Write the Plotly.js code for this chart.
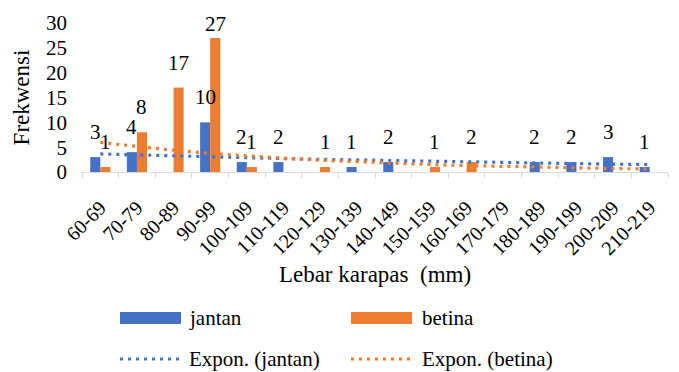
<!DOCTYPE html>
<html><head><meta charset="utf-8">
<script src="https://cdn.plot.ly/plotly-3.0.1.min.js"></script>
<style>html,body{margin:0;padding:0;background:#fff}#chart{width:679px;height:372px}</style>
</head><body><div id="chart"></div>
<script>
const categories = ["60-69","70-79","80-89","90-99","100-109","110-119","120-129","130-139","140-149","150-159","160-169","170-179","180-189","190-199","200-209","210-219"];
// blank cells are null (not plotted, not labelled)
const jantan = [3,4,null,10,2,2,null,1,2,null,null,null,2,2,3,1];
const betina = [1,8,17,27,1,null,1,null,null,1,2,null,null,null,null,null];
const seriesNames = ["jantan","betina"];
const trendNames = ["Expon. (jantan)","Expon. (betina)"];
const yTicks = [0,5,10,15,20,25,30];
const xTitle = "Lebar karapas\u00a0\u00a0(mm)";
const yTitle = "Frekwensi";

const BLUE = "#4472C4", ORANGE = "#ED7D31";
const FONT = "Liberation Serif, serif";

// Excel-style exponential trendline: least squares on ln(y) vs category position (1..n), blanks skipped
function expTrend(vals){
  const pts = [];
  vals.forEach((v,i)=>{ if(v!==null && v>0) pts.push([i+1, Math.log(v)]); });
  const n = pts.length;
  const mx = pts.reduce((s,p)=>s+p[0],0)/n, my = pts.reduce((s,p)=>s+p[1],0)/n;
  let sxy=0, sxx=0;
  pts.forEach(p=>{ sxy += (p[0]-mx)*(p[1]-my); sxx += (p[0]-mx)*(p[0]-mx); });
  const b = sxy/sxx, a = Math.exp(my - b*mx);
  return vals.map((_,i)=> a*Math.exp(b*(i+1)));
}

const traces = [
  {type:"bar", name:seriesNames[0], x:categories, y:jantan, marker:{color:BLUE}, showlegend:false, hoverinfo:"x+y"},
  {type:"bar", name:seriesNames[1], x:categories, y:betina, marker:{color:ORANGE}, showlegend:false, hoverinfo:"x+y"},
  {type:"scatter", mode:"lines", name:trendNames[0], x:categories, y:expTrend(jantan), line:{color:BLUE, width:3.2, dash:"3px,5px"}, showlegend:false, hoverinfo:"skip"},
  {type:"scatter", mode:"lines", name:trendNames[1], x:categories, y:expTrend(betina), line:{color:ORANGE, width:3.2, dash:"3px,5px"}, showlegend:false, hoverinfo:"skip"}
];

// plot area in pixels
const M = {l:82, r:11, t:23, b:200};
const W = 679, H = 372;
const pw = W - M.l - M.r, ph = H - M.t - M.b;
const px = x => (x - M.l)/pw;
const py = y => (H - M.b - y)/ph;

const annotations = [];
[[jantan,-5],[betina,5]].forEach(([vals,shift])=>{
  vals.forEach((v,i)=>{
    if(v===null) return;
    annotations.push({x:categories[i], y:Math.min(v+2.2, 27.0), xref:"x", yref:"y", yanchor:"bottom", xanchor:"center",
      xshift:shift, text:String(v), showarrow:false, font:{family:FONT, size:21, color:"#000"}});
  });
});

// legend (Excel-like wide swatches)
const shapes = [];
const legendItems = [
  {kind:"bar", color:BLUE, text:seriesNames[0], sx:120, tx:187, y:318},
  {kind:"bar", color:ORANGE, text:seriesNames[1], sx:351, tx:420, y:318},
  {kind:"line", color:BLUE, text:trendNames[0], sx:120, tx:187, y:359},
  {kind:"line", color:ORANGE, text:trendNames[1], sx:351, tx:420, y:359}
];
legendItems.forEach(it=>{
  if(it.kind==="bar"){
    shapes.push({type:"rect", xref:"paper", yref:"paper", x0:px(it.sx), x1:px(it.sx+61), y0:py(it.y+6), y1:py(it.y-6),
      fillcolor:it.color, line:{width:0}});
  } else {
    shapes.push({type:"line", xref:"paper", yref:"paper", x0:px(it.sx), x1:px(it.sx+61), y0:py(it.y), y1:py(it.y),
      line:{color:it.color, width:3.2, dash:"3px,5px"}});
  }
  annotations.push({xref:"paper", yref:"paper", x:px(it.tx), y:py(it.y), xanchor:"left", yanchor:"middle",
    text:it.text, showarrow:false, font:{family:FONT, size:21, color:"#000"}});
});

const layout = {
  width:W, height:H, margin:M, paper_bgcolor:"#fff", plot_bgcolor:"#fff",
  font:{family:FONT, color:"#000"},
  barmode:"group", bargap:0.45, bargroupgap:0,
  showlegend:false,
  xaxis:{type:"category", showline:true, linecolor:"#d9d9d9", linewidth:1, ticks:"outside", ticklen:5, tickcolor:"#d9d9d9",
    tickson:"boundaries", tickangle:-45, tickfont:{family:FONT, size:20, color:"#000"}, showgrid:false, zeroline:false,
    ticklabelstandoff:15,
    title:{text:xTitle, font:{family:FONT, size:23, color:"#000"}, standoff:7}},
  yaxis:{range:[0,30], tickvals:yTicks, ticktext:yTicks.map(String), showgrid:false, zeroline:false, showline:false,
    ticks:"", ticklabelstandoff:14, tickfont:{family:FONT, size:21, color:"#000"},
    title:{text:yTitle, font:{family:FONT, size:23, color:"#000"}, standoff:9}},
  annotations:annotations, shapes:shapes
};

Plotly.newPlot("chart", traces, layout, {displayModeBar:false, staticPlot:true});
</script></body></html>
